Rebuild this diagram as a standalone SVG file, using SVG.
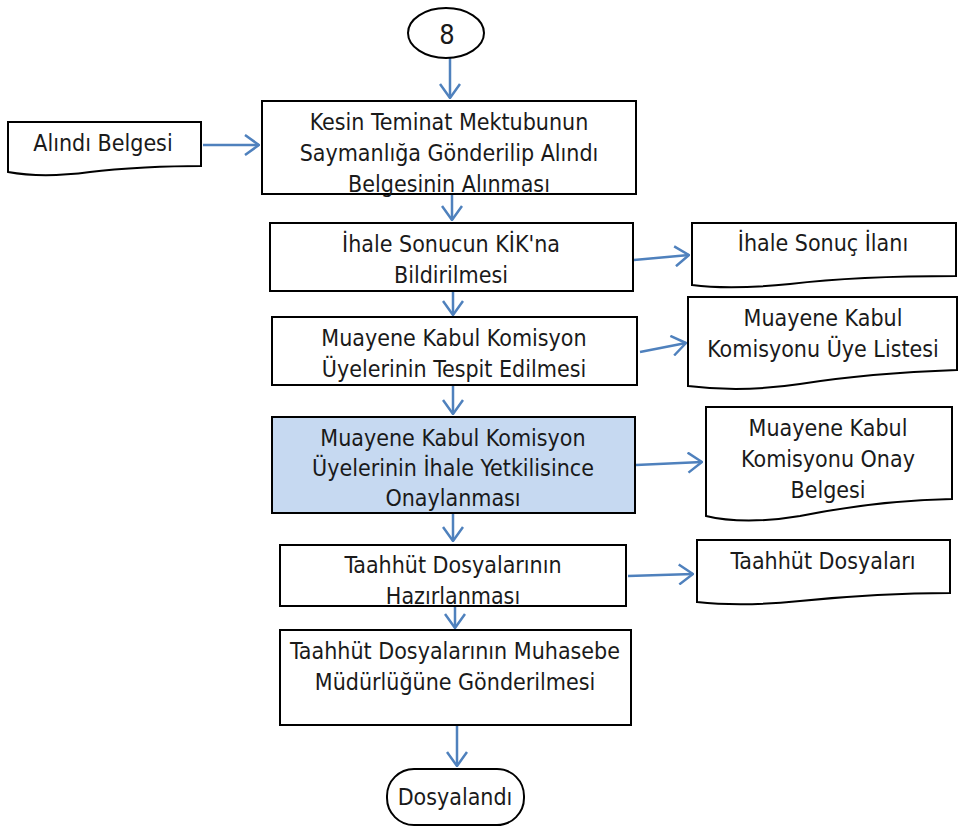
<svg xmlns="http://www.w3.org/2000/svg" width="960" height="828" viewBox="0 0 960 828">
<style>
.box{fill:#fff;stroke:#000;stroke-width:2}
.blue{fill:#c6d9f1}
.t{font-family:"DejaVu Sans Condensed","DejaVu Sans",sans-serif;font-size:23px;fill:#1a1a1a;text-anchor:middle}
.c{fill:none;stroke:#4f81bd;stroke-width:2.5}
</style>
<defs>
<marker id="ah" markerUnits="userSpaceOnUse" markerWidth="16" markerHeight="22" refX="15" refY="11" orient="auto" viewBox="0 0 16 22">
<path d="M1,1 L15,11 L1,21" fill="none" stroke="#4f81bd" stroke-width="2.5"/>
</marker>
</defs>
<g id="connectors">
<path class="c" d="M450,58 V98" marker-end="url(#ah)"/>
<path class="c" d="M203,145 H259" marker-end="url(#ah)"/>
<path class="c" d="M452,195 V220" marker-end="url(#ah)"/>
<path class="c" d="M453,291 V315" marker-end="url(#ah)"/>
<path class="c" d="M453,385 V414" marker-end="url(#ah)"/>
<path class="c" d="M453,513 V541" marker-end="url(#ah)"/>
<path class="c" d="M455,606 V628" marker-end="url(#ah)"/>
<path class="c" d="M457,725 V766" marker-end="url(#ah)"/>
<path class="c" d="M634,260 L689,255" marker-end="url(#ah)"/>
<path class="c" d="M640,352 L686,343" marker-end="url(#ah)"/>
<path class="c" d="M636,465 L702,462" marker-end="url(#ah)"/>
<path class="c" d="M628,576 L693,574" marker-end="url(#ah)"/>
</g>
<g id="n8">
<ellipse class="box" cx="446" cy="33" rx="38" ry="25"/>
<text class="t" x="447" y="44" style="font-size:27px">8</text>
</g>
<g id="n-alindi">
<path class="box" d="M8,122 H201 V166 C170,166 120,168 90,172 C60,176 30,176 8,172 Z"/>
<text class="t" x="103" y="151">Alındı Belgesi</text>
</g>
<g id="n-kesin">
<rect class="box" x="262" y="101" width="374" height="93"/>
<text class="t" x="449" y="130">Kesin Teminat Mektubunun</text>
<text class="t" x="449" y="161">Saymanlığa Gönderilip Alındı</text>
<text class="t" x="449" y="192">Belgesinin Alınması</text>
</g>
<g id="n-kik">
<rect class="box" x="270" y="223" width="363" height="68"/>
<text class="t" x="451" y="252">İhale Sonucun KİK'na</text>
<text class="t" x="451" y="283">Bildirilmesi</text>
</g>
<g id="n-tespit">
<rect class="box" x="272" y="317" width="365" height="68"/>
<text class="t" x="454" y="346">Muayene Kabul Komisyon</text>
<text class="t" x="454" y="377">Üyelerinin Tespit Edilmesi</text>
</g>
<g id="n-onay">
<rect class="box blue" x="272" y="417" width="363" height="96"/>
<text class="t" x="453" y="446">Muayene Kabul Komisyon</text>
<text class="t" x="453" y="476">Üyelerinin İhale Yetkilisince</text>
<text class="t" x="453" y="506">Onaylanması</text>
</g>
<g id="n-hazir">
<rect class="box" x="280" y="545" width="346" height="61"/>
<text class="t" x="453" y="573">Taahhüt Dosyalarının</text>
<text class="t" x="453" y="604">Hazırlanması</text>
</g>
<g id="n-muhasebe">
<rect class="box" x="280" y="630" width="351" height="95"/>
<text class="t" x="455" y="659">Taahhüt Dosyalarının Muhasebe</text>
<text class="t" x="455" y="690">Müdürlüğüne Gönderilmesi</text>
</g>
<g id="n-dosyalandi">
<rect class="box" x="387" y="769" width="137" height="56" rx="27"/>
<text class="t" x="455" y="805">Dosyalandı</text>
</g>
<g id="n-ilan">
<path class="box" d="M692,223 H956 V276 C900,276 840,278 790,284 C750,288 715,288 692,285 Z"/>
<text class="t" x="823" y="251">İhale Sonuç İlanı</text>
</g>
<g id="n-liste">
<path class="box" d="M688,297 H957 V370 C900,372 850,376 800,384 C760,390 720,390 688,386 Z"/>
<text class="t" x="823" y="326">Muayene Kabul</text>
<text class="t" x="823" y="357">Komisyonu Üye Listesi</text>
</g>
<g id="n-onaybelge">
<path class="box" d="M706,407 H952 V499 C900,500 850,506 800,516 C765,522 730,522 706,516 Z"/>
<text class="t" x="828" y="436">Muayene Kabul</text>
<text class="t" x="828" y="467">Komisyonu Onay</text>
<text class="t" x="828" y="498">Belgesi</text>
</g>
<g id="n-dosyalar">
<path class="box" d="M697,540 H950 V593 C900,593 850,596 800,601 C760,605 725,605 697,602 Z"/>
<text class="t" x="823" y="569">Taahhüt Dosyaları</text>
</g>
</svg>
